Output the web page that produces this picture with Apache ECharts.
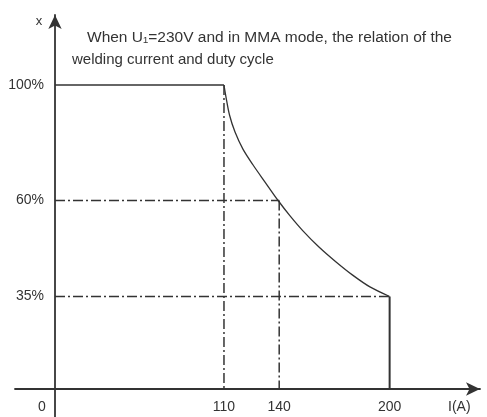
<!DOCTYPE html>
<html><head><meta charset="utf-8">
<script src="https://cdn.jsdelivr.net/npm/echarts@6/dist/echarts.min.js"></script>
<style>html,body{margin:0;padding:0;background:#fff}#c{width:487px;height:417px}</style>
</head><body><div id="c"></div>
<script>
// ---- data ----
const titleLines = ['When U\u2081=230V and in MMA mode, the relation of the', 'welding current and duty cycle'];
const xTickValues = [0, 110, 140, 200];
const yTickValues = [35, 60, 100];
const xAxisName = 'I(A)';
const yAxisName = 'x';
const flatCurrent = [0, 110];
const flatDuty = [100, 100];
const curveCurrent = [110, 111.1, 113.0, 116.0, 120.3, 125.8, 132.3, 139.4, 145.9, 152.9, 161.6, 170.9, 180.1, 189.3, 200];
const curveDuty = [100, 95.8, 89.6, 83.7, 77.8, 72.3, 66.4, 60, 56.0, 52.1, 47.9, 44.0, 40.5, 37.5, 35];
const dropCurrent = [200, 200];
const dropDuty = [35, 0];
const guideCurrent = [[0, 140], [0, 200], [110, 110], [140, 140]];
const guideDuty = [[60, 60], [35, 35], [100, 0], [60, 0]];

// ---- chart ----
const FONT = "'Liberation Sans', Arial, sans-serif";
const INK = '#333';
const zip = (a, b) => a.map((v, i) => [v, b[i]]);
const chart = echarts.init(document.getElementById('c'), null, {renderer: 'canvas'});

const dashDot = {color: INK, width: 1.5, type: [10, 3, 2, 3]};
const base = {type: 'line', xAxisIndex: 0, yAxisIndex: 0, showSymbol: false, silent: true};

const series = [
  Object.assign({}, base, {data: zip(flatCurrent, flatDuty), lineStyle: {color: INK, width: 1.6}}),
  Object.assign({}, base, {data: zip(curveCurrent, curveDuty), smooth: 0.3, lineStyle: {color: INK, width: 1.3}}),
  Object.assign({}, base, {data: zip(dropCurrent, dropDuty), lineStyle: {color: INK, width: 2}})
];
guideCurrent.forEach((xs, i) => {
  series.push(Object.assign({}, base, {data: zip(xs, guideDuty[i]), lineStyle: dashDot, z: 1}));
});

const hideAll = {axisLine: {show: false}, axisTick: {show: false}, splitLine: {show: false}};
const arrowLine = {onZero: true, lineStyle: {color: INK, width: 1.8}, symbol: ['none', 'arrow'], symbolSize: [10, 14]};

chart.setOption({
  animation: false,
  backgroundColor: '#fff',
  title: [
    {text: titleLines[0], left: 87, top: 29, padding: 0, textStyle: {fontFamily: FONT, fontSize: 15.5, fontWeight: 'normal', color: INK, lineHeight: 18}},
    {text: titleLines[1], left: 72, top: 51, padding: 0, textStyle: {fontFamily: FONT, fontSize: 15, fontWeight: 'normal', color: INK, lineHeight: 18}}
  ],
  grid: [
    {left: 55, right: 7, top: 15, bottom: 28, outerBoundsMode: 'none'},
    {left: 15, right: 7, top: 15, bottom: 0, outerBoundsMode: 'none'}
  ],
  xAxis: [
    Object.assign({
      gridIndex: 0, type: 'value', min: 0, max: 249.1,
      breaks: [{start: 0, end: 110, gap: '39.76%'}],
      breakArea: {show: false},
      axisLabel: {
        customValues: xTickValues, showMinLabel: true, margin: 11, fontFamily: FONT, fontSize: 14, color: INK,
        formatter: v => v === 0 ? '{z|0}' : String(v),
        rich: {z: {fontFamily: FONT, fontSize: 14, color: INK, padding: [0, 26, 0, 0]}}
      }
    }, hideAll),
    {
      gridIndex: 1, type: 'value', min: -40, max: 425,
      axisTick: {show: false}, splitLine: {show: false}, axisLabel: {show: false},
      axisLine: arrowLine,
      name: xAxisName, nameLocation: 'end', nameGap: -32,
      nameTextStyle: {fontFamily: FONT, fontSize: 14, color: INK, verticalAlign: 'top', padding: [11, 0, 0, 0]}
    }
  ],
  yAxis: [
    Object.assign({
      gridIndex: 0, type: 'value', min: 0, max: 118.23,
      breaks: [{start: 0, end: 35, gap: '24.73%'}, {start: 60, end: 100, gap: '30.88%'}],
      breakArea: {show: false},
      axisLabel: {customValues: yTickValues, margin: 11, fontFamily: FONT, fontSize: 14, color: INK, formatter: '{value}%'}
    }, hideAll),
    {
      gridIndex: 1, type: 'value', min: -28, max: 374,
      axisTick: {show: false}, splitLine: {show: false}, axisLabel: {show: false},
      axisLine: arrowLine,
      name: yAxisName, nameLocation: 'end', nameGap: -13,
      nameTextStyle: {fontFamily: FONT, fontSize: 13, color: INK, padding: [0, 32, 0, 0]}
    }
  ],
  series: series
});
</script>
</body></html>
